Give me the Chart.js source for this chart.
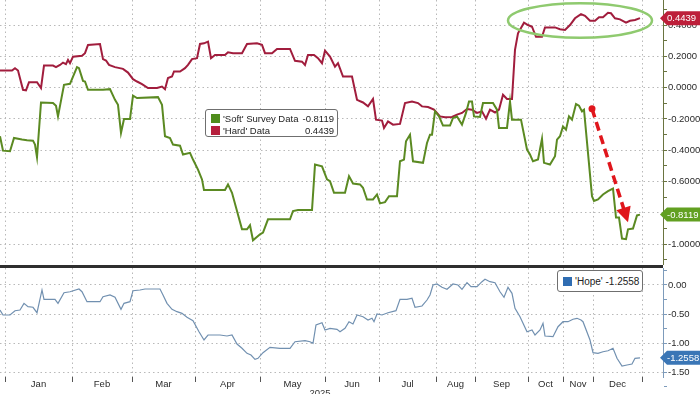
<!DOCTYPE html>
<html>
<head>
<meta charset="utf-8">
<script src="https://cdn.jsdelivr.net/npm/chart.js@4.4.0/dist/chart.umd.min.js"></script>
<style>
    html, body { margin: 0; padding: 0; background: #fff; }
    #wrap { position: relative; width: 700px; height: 394px; overflow: hidden; font-family: 'Liberation Sans', Arial, sans-serif; }
    #topChart { position: absolute; left: 0; top: 0; }
    #bottomChart { position: absolute; left: 0; top: 268px; }
    #sep { position: absolute; left: 0; top: 265px; width: 663px; height: 3px; background: #2e2e2e; }
    .legend { position: absolute; background: #fff; border: 1px solid #6f6f6f; border-radius: 3px; font-size: 9.5px; color: #222; box-sizing: border-box; }
    .legend .row { display: flex; align-items: center; height: 12px; white-space: pre; }
    .legend .sw { width: 9px; height: 9px; margin-right: 3px; flex: none; }
    .legend .name { flex: 1; }
    #legendTop { left: 205px; top: 109px; width: 133px; height: 28px; padding: 2px 3px 2px 5px; }
    #legendBottom { left: 557px; top: 270px; width: 86px; height: 22px; padding: 4px 4px 4px 5px; font-size: 10px; }
</style>
</head>
<body>
<div id="wrap">
    <canvas id="topChart" width="700" height="265"></canvas>
    <div id="sep"></div>
    <canvas id="bottomChart" width="700" height="126"></canvas>
    <div class="legend" id="legendTop"></div>
    <div class="legend" id="legendBottom"></div>
</div>
<script>
// x is the observation position along the (uneven) 2025 time axis
const monthLabels = ['Jan', 'Feb', 'Mar', 'Apr', 'May', 'Jun', 'Jul', 'Aug', 'Sep', 'Oct', 'Nov', 'Dec'];
const monthEdges = [5, 72, 132, 195, 260, 325, 379, 436, 475, 528, 563, 593, 642];

const topTicks = [-1.0, -0.8, -0.6, -0.4, -0.2, 0.0, 0.2, 0.4];
const bottomTicks = [-1.5, -1.0, -0.5, 0.0];

const softX = [0, 3, 10, 14, 22, 27, 33, 35, 37, 41, 53, 56, 58, 64, 70, 77, 79, 83, 85, 88,
    103, 110, 115, 118, 121, 124, 130, 133, 137, 158, 162, 165, 170, 173, 180, 183, 190, 193, 198, 202,
    204, 225, 228, 232, 237, 242, 247, 250, 253, 260, 263, 268, 290, 293, 298, 312, 315, 322, 327, 330,
    334, 345, 349, 353, 360, 363, 367, 373, 377, 380, 385, 389, 397, 400, 404, 406, 410, 413, 423, 427,
    430, 432, 435, 439, 443, 450, 453, 457, 462, 466, 469, 472, 474, 480, 483, 493, 497, 499, 507, 510,
    512, 521, 527, 530, 533, 538, 542, 544, 550, 555, 557, 560, 563, 566, 569, 572, 576, 579, 582, 584,
    592, 594, 598, 603, 608, 613, 616, 619, 622, 626, 628, 633, 637, 640];
const softY = [-0.311, -0.403, -0.407, -0.322, -0.332, -0.337, -0.339, -0.364, -0.445, -0.095,
    -0.099, -0.116, -0.184, 0.018, 0.024, 0.131, 0.124, 0.043, 0.039, -0.014,
    -0.014, -0.010, -0.078, -0.110, -0.290, -0.201, -0.201, -0.052, -0.067, -0.061,
    -0.110, -0.311, -0.322, -0.364, -0.371, -0.428, -0.417, -0.460, -0.524, -0.587,
    -0.655, -0.655, -0.619, -0.672, -0.789, -0.906, -0.906, -0.880, -0.976, -0.938,
    -0.927, -0.842, -0.842, -0.789, -0.783, -0.783, -0.492, -0.503, -0.587, -0.598,
    -0.672, -0.672, -0.566, -0.613, -0.619, -0.640, -0.715, -0.715, -0.683, -0.740,
    -0.732, -0.694, -0.694, -0.471, -0.460, -0.343, -0.301, -0.471, -0.481, -0.354,
    -0.301, -0.301, -0.152, -0.184, -0.243, -0.243, -0.194, -0.184, -0.237, -0.162,
    -0.089, -0.089, -0.184, -0.188, -0.099, -0.099, -0.141, -0.258, -0.258, -0.089,
    -0.205, -0.205, -0.396, -0.428, -0.471, -0.460, -0.328, -0.481, -0.492, -0.439,
    -0.333, -0.311, -0.248, -0.269, -0.184, -0.205, -0.105, -0.116, -0.152, -0.141,
    -0.694, -0.725, -0.715, -0.683, -0.662, -0.646, -0.831, -0.831, -0.965, -0.969,
    -0.906, -0.901, -0.817, -0.8119];

const hardX = [0, 12, 15, 18, 23, 26, 29, 37, 41, 44, 53, 56, 60, 63, 66, 68, 70, 73, 82, 85,
    88, 100, 103, 106, 109, 115, 123, 128, 133, 137, 142, 148, 157, 162, 165, 168, 172, 174, 180, 185,
    188, 192, 197, 200, 204, 208, 211, 215, 225, 228, 233, 242, 247, 257, 262, 265, 272, 277, 290, 295,
    302, 305, 308, 314, 318, 322, 325, 330, 335, 338, 343, 352, 357, 363, 368, 373, 376, 382, 384, 388,
    393, 400, 405, 412, 418, 422, 428, 434, 440, 445, 452, 457, 462, 467, 472, 477, 482, 486, 490, 495,
    499, 503, 507, 512, 515, 518, 524, 528, 532, 536, 542, 545, 555, 560, 565, 570, 575, 581, 585, 590,
    595, 599, 603, 608, 611, 615, 620, 626, 630, 635, 640];
const hardY = [0.109, 0.109, 0.124, 0.109, -0.014, -0.018, 0.035, 0.035, -0.003, 0.141,
    0.141, 0.131, 0.145, 0.160, 0.150, 0.177, 0.156, 0.198, 0.203, 0.220,
    0.273, 0.279, 0.182, 0.173, 0.145, 0.131, 0.120, 0.096, 0.054, 0.039,
    0.022, -0.003, -0.003, 0.007, -0.010, 0.061, 0.071, 0.103, 0.103, 0.124,
    0.145, 0.182, 0.188, 0.279, 0.283, 0.294, 0.188, 0.209, 0.209, 0.226,
    0.220, 0.220, 0.279, 0.283, 0.273, 0.220, 0.220, 0.247, 0.247, 0.171,
    0.166, 0.145, 0.209, 0.209, 0.188, 0.156, 0.236, 0.198, 0.134, 0.156,
    0.071, 0.071, -0.078, -0.095, -0.120, -0.073, -0.205, -0.211, -0.258, -0.216,
    -0.237, -0.232, -0.099, -0.089, -0.099, -0.120, -0.124, -0.141, -0.184, -0.190,
    -0.188, -0.173, -0.162, -0.137, -0.141, -0.162, -0.152, -0.199, -0.141, -0.159,
    -0.141, -0.046, -0.073, -0.073, 0.241, 0.347, 0.415, 0.400, 0.389, 0.325,
    0.325, 0.385, 0.385, 0.373, 0.368, 0.400, 0.443, 0.470, 0.459, 0.427,
    0.427, 0.449, 0.449, 0.478, 0.475, 0.443, 0.436, 0.415, 0.427, 0.432,
    0.4439];

const hopeX = [0, 3, 10, 15, 20, 24, 28, 33, 37, 42, 44, 55, 58, 64, 70, 79, 82, 87, 100, 103,
    110, 115, 121, 124, 130, 133, 140, 145, 160, 163, 167, 172, 177, 182, 187, 193, 199, 204, 208, 220,
    227, 232, 237, 242, 247, 251, 255, 258, 263, 270, 280, 290, 295, 305, 310, 313, 316, 322, 325, 330,
    337, 340, 345, 349, 353, 357, 363, 368, 372, 374, 377, 382, 388, 396, 400, 407, 412, 415, 422, 427,
    430, 433, 437, 442, 447, 453, 458, 462, 467, 471, 477, 482, 485, 490, 495, 500, 504, 508, 512, 515,
    520, 527, 532, 535, 540, 543, 545, 553, 558, 563, 568, 573, 577, 581, 583, 590, 593, 598, 603, 608,
    613, 617, 622, 627, 632, 635, 640];
const hopeY = [-0.431, -0.517, -0.517, -0.443, -0.431, -0.316, -0.374, -0.384, -0.478, -0.086,
    -0.247, -0.247, -0.316, -0.133, -0.116, -0.069, -0.116, -0.288, -0.288, -0.202,
    -0.172, -0.212, -0.419, -0.316, -0.288, -0.098, -0.086, -0.069, -0.069, -0.172,
    -0.316, -0.419, -0.460, -0.488, -0.557, -0.616, -0.805, -0.948, -0.862, -0.862,
    -0.879, -0.862, -1.017, -1.091, -1.178, -1.207, -1.281, -1.264, -1.167, -1.074,
    -1.091, -1.091, -0.978, -0.960, -0.978, -1.005, -0.690, -0.650, -0.776, -0.747,
    -0.764, -0.805, -0.747, -0.633, -0.672, -0.517, -0.547, -0.603, -0.574, -0.633,
    -0.500, -0.517, -0.478, -0.443, -0.247, -0.247, -0.229, -0.384, -0.362, -0.259,
    -0.172, 0.000, 0.017, -0.040, -0.074, 0.017, 0.000, -0.074, 0.040, -0.029,
    -0.029, 0.057, 0.098, 0.057, 0.040, -0.116, -0.212, -0.040, -0.143, -0.402,
    -0.547, -0.805, -0.776, -0.862, -0.776, -0.660, -0.879, -0.891, -0.719, -0.633,
    -0.633, -0.591, -0.574, -0.603, -0.633, -0.948, -1.167, -1.178, -1.150, -1.133,
    -1.091, -1.264, -1.397, -1.379, -1.362, -1.264, -1.2558];

// --- styling ---
const FONT = "'Liberation Sans', Arial, sans-serif";
const FONT_SIZE = 9.5;
const SOFT = '#5b8a22';
const HARD = '#a11d3d';
const HOPE = '#7190b0';
const GRID = '#b9b9b9';
const DASH = [1.5, 3];
const X_MIN = 0, X_MAX = 663;

// annotations, in data units
const ellipseAt = { x: 580, y: 0.429, rx: 72, ry: 0.111 };
const arrowFrom = { x: 592, y: -0.135 };
const arrowTo = { x: 628, y: -0.861 };

const pairs = (xs, ys) => xs.map((x, i) => ({ x, y: ys[i] }));
const last = arr => arr[arr.length - 1];
const monthCenters = monthEdges.slice(0, -1).map((e, i) => (e + monthEdges[i + 1]) / 2);

const withMinor = (majors, step) => {
    const out = [];
    const lo = majors[0] - step, hi = last(majors) + step;
    for (let v = lo; v <= hi + 1e-9; v += step) {
        const r = Math.round(v * 1000) / 1000;
        out.push({ value: r, minor: !majors.some(m => Math.abs(m - r) < 1e-6) });
    }
    return out;
};

const drawBadge = (chart, value, text, color) => {
    const { ctx, chartArea, scales } = chart;
    const x = chartArea.right;
    const y = scales.y.getPixelForValue(value);
    ctx.save();
    ctx.fillStyle = color;
    ctx.beginPath();
    ctx.moveTo(x - 3, y);
    ctx.lineTo(x + 4, y - 7);
    ctx.lineTo(chart.width, y - 7);
    ctx.lineTo(chart.width, y + 7);
    ctx.lineTo(x + 4, y + 7);
    ctx.closePath();
    ctx.fill();
    ctx.fillStyle = '#fff';
    ctx.font = FONT_SIZE + 'px ' + FONT;
    ctx.textAlign = 'left';
    ctx.textBaseline = 'middle';
    ctx.fillText(text, x + 4, y + 0.5);
    ctx.restore();
};

const topExtras = {
    id: 'topExtras',
    afterDatasetsDraw(chart) {
        const { ctx, scales: { x, y } } = chart;
        ctx.save();
        // green ellipse
        const cx = x.getPixelForValue(ellipseAt.x), cy = y.getPixelForValue(ellipseAt.y);
        const rx = x.getPixelForValue(ellipseAt.x + ellipseAt.rx) - cx;
        const ry = cy - y.getPixelForValue(ellipseAt.y + ellipseAt.ry);
        ctx.strokeStyle = '#8fca6f';
        ctx.lineWidth = 2.5;
        ctx.beginPath();
        ctx.ellipse(cx, cy, rx, ry, 0, 0, Math.PI * 2);
        ctx.stroke();

        // red dashed arrow
        const x0 = x.getPixelForValue(arrowFrom.x), y0 = y.getPixelForValue(arrowFrom.y);
        const x1 = x.getPixelForValue(arrowTo.x), y1 = y.getPixelForValue(arrowTo.y);
        const len = Math.hypot(x1 - x0, y1 - y0);
        const dx = (x1 - x0) / len, dy = (y1 - y0) / len;
        const head = 15, half = 7.5;
        ctx.strokeStyle = '#e0161c';
        ctx.fillStyle = '#e0161c';
        ctx.lineWidth = 3.5;
        ctx.setLineDash([9, 5]);
        ctx.beginPath();
        ctx.moveTo(x0, y0);
        ctx.lineTo(x1 - dx * (head - 2), y1 - dy * (head - 2));
        ctx.stroke();
        ctx.setLineDash([]);
        ctx.beginPath();
        ctx.arc(x0, y0, 3.5, 0, Math.PI * 2);
        ctx.fill();
        const bx = x1 - dx * head, by = y1 - dy * head;
        ctx.beginPath();
        ctx.moveTo(x1, y1);
        ctx.lineTo(bx - dy * half, by + dx * half);
        ctx.lineTo(bx + dy * half, by - dx * half);
        ctx.closePath();
        ctx.fill();
        ctx.restore();
    },
    afterDraw(chart) {
        drawBadge(chart, last(hardY), last(hardY).toFixed(4), '#bd1f3a');
        drawBadge(chart, last(softY), last(softY).toFixed(4), '#62a021');
    }
};

const bottomExtras = {
    id: 'bottomExtras',
    afterDraw(chart) {
        drawBadge(chart, last(hopeY), last(hopeY).toFixed(4), '#3a76b6');
        const { ctx, scales: { x } } = chart;
        ctx.save();
        ctx.fillStyle = '#333';
        ctx.font = FONT_SIZE + 'px ' + FONT;
        ctx.textAlign = 'center';
        ctx.textBaseline = 'top';
        ctx.fillText('2025', x.getPixelForValue(monthEdges[5]) - 5, chart.height - 5);
        ctx.restore();
    }
};

const yAxis = (min, max, majors, step, digits, axisColor) => ({
    position: 'right',
    min, max,
    afterBuildTicks: s => { s.ticks = withMinor(majors, step); },
    afterFit: s => {
        s.width = 37;
        s.paddingTop = 0;
        s.paddingBottom = 0;
    },
    ticks: {
        autoSkip: false,
        padding: 1,
        color: '#2a2a2a',
        font: { family: FONT, size: FONT_SIZE },
        callback: (v, i, ticks) => ticks[i].minor ? '' : v.toFixed(digits)
    },
    grid: {
        color: c => (c.tick && c.tick.minor) ? 'rgba(0,0,0,0)' : GRID,
        tickColor: axisColor,
        tickLength: 4
    },
    border: { color: axisColor, dash: DASH }
});

const edgeAxis = (showTicks) => ({
    type: 'linear',
    min: X_MIN, max: X_MAX,
    position: 'bottom',
    weight: 0,
    afterBuildTicks: s => { s.ticks = monthEdges.map(v => ({ value: v })); },
    afterFit: s => { s.height = 0; },
    ticks: { display: false },
    grid: { color: GRID, drawTicks: showTicks, tickLength: 5, tickColor: '#555' },
    border: { display: false, dash: DASH }
});

new Chart(document.getElementById('topChart'), {
    type: 'line',
    data: {
        datasets: [
            { label: "'Soft' Survey Data", data: pairs(softX, softY), borderColor: SOFT, borderWidth: 2, pointRadius: 0, tension: 0 },
            { label: "'Hard' Data", data: pairs(hardX, hardY), borderColor: HARD, borderWidth: 2, pointRadius: 0, tension: 0 }
        ]
    },
    options: {
        responsive: false,
        animation: false,
        layout: { padding: 0 },
        plugins: { legend: { display: false }, tooltip: { enabled: false } },
        scales: {
            x: edgeAxis(false),
            y: yAxis(-1.134, 0.56, topTicks, 0.1, 4, '#6a7440')
        }
    },
    plugins: [topExtras]
});

new Chart(document.getElementById('bottomChart'), {
    type: 'line',
    data: {
        datasets: [
            { label: "'Hope'", data: pairs(hopeX, hopeY), borderColor: HOPE, borderWidth: 1.2, pointRadius: 0, tension: 0 }
        ]
    },
    options: {
        responsive: false,
        animation: false,
        layout: { padding: 0 },
        plugins: { legend: { display: false }, tooltip: { enabled: false } },
        scales: {
            x: edgeAxis(true),
            xl: {
                type: 'linear',
                min: X_MIN, max: X_MAX,
                position: 'bottom',
                weight: 1,
                afterBuildTicks: s => { s.ticks = monthCenters.map(v => ({ value: v })); },
                afterFit: s => { s.height = 17; },
                ticks: {
                    autoSkip: false,
                    maxRotation: 0,
                    padding: 2,
                    color: '#2a2a2a',
                    font: { family: FONT, size: FONT_SIZE },
                    callback: (v, i) => monthLabels[i]
                },
                grid: { display: false, drawTicks: false },
                border: { display: false }
            },
            y: yAxis(-1.586, 0.293, bottomTicks, 0.25, 2, '#7d9bbb')
        }
    },
    plugins: [bottomExtras]
});

// --- Legends ---
const legendRow = (color, name, value) =>
    `<div class="row"><span class="sw" style="background:${color}"></span><span class="name">${name}</span><span>${value}</span></div>`;

document.getElementById('legendTop').innerHTML =
    legendRow('#4f8d1c', "'Soft' Survey Data ", last(softY).toFixed(4)) +
    legendRow('#b51f3c', "'Hard' Data", last(hardY).toFixed(4));
document.getElementById('legendBottom').innerHTML =
    legendRow('#2f6db2', "'Hope'", ' ' + last(hopeY).toFixed(4));
</script>
</body>
</html>
